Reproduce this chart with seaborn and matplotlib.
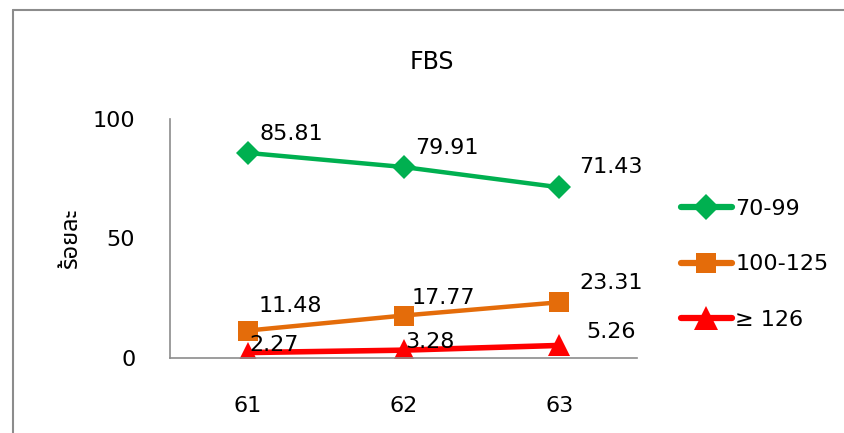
import numpy as np
import pandas as pd
import seaborn as sns
import matplotlib.pyplot as plt
from matplotlib.lines import Line2D
from matplotlib import font_manager

# ---------- data ----------
years = ["61", "62", "63"]
groups = ["70-99", "100-125", "≥ 126"]
fbs_70_99 = [85.81, 79.91, 71.43]
fbs_100_125 = [11.48, 17.77, 23.31]
fbs_126 = [2.27, 3.28, 5.26]
y_ticks = [0, 50, 100]

colors = {"70-99": "#00B050", "100-125": "#E46C0A", "≥ 126": "#FF0000"}
markers = {"70-99": "D", "100-125": "s", "≥ 126": "^"}
msize = {"D": 12, "s": 14, "^": 16}

df = pd.DataFrame({
    "year": years * 3,
    "group": [g for g in groups for _ in years],
    "value": fbs_70_99 + fbs_100_125 + fbs_126,
})

sns.set_theme(style="white")
# pick a font with thai glyphs if there is one
names = {f.name for f in font_manager.fontManager.ttflist}
thai = [n for n in ["Noto Sans Thai", "Noto Sans Thai UI", "Loma", "Garuda",
                    "Norasi", "Tlwg Typo", "Sarabun", "Noto Serif Thai"] if n in names]
plt.rcParams["font.family"] = ["DejaVu Sans"] + thai
plt.rcParams["text.color"] = "black"
plt.rcParams["xtick.color"] = "black"
plt.rcParams["ytick.color"] = "black"

fig = plt.figure(figsize=(8.44, 4.33), dpi=100)
ax = fig.add_axes([170 / 844, 1 - 358 / 433, (637 - 170) / 844, (358 - 119) / 433])

sns.lineplot(data=df, x="year", y="value", hue="group", style="group",
             markers=markers, dashes=False, palette=colors, linewidth=3.2,
             markersize=13, markeredgewidth=0, legend=False, ax=ax, sort=False)
for ln in ax.lines:
    m = ln.get_marker()
    if m in msize:
        ln.set_markersize(msize[m])
    if m == "^":
        ln.set_linewidth(4)

ax.set_xlim(-0.5, 2.5)
ax.set_ylim(0, 100)
ax.set_yticks(y_ticks)
ax.set_xlabel("")
ax.set_ylabel("")
ax.tick_params(axis="y", length=0, pad=25, labelsize=16)
ax.tick_params(axis="x", length=0, pad=27, labelsize=16)
sns.despine(ax=ax)
for s in ["left", "bottom"]:
    ax.spines[s].set_color("#8c8c8c")
    ax.spines[s].set_linewidth(1.2)

# data labels
offsets = {"70-99": (43, 19), "100-125": (42, 25), "≥ 126": (26, 8)}
last_offsets = {"70-99": (52, 20), "100-125": (52, 19), "≥ 126": (52, 13)}
for g, vals in zip(groups, [fbs_70_99, fbs_100_125, fbs_126]):
    for i, v in enumerate(vals):
        off = last_offsets[g] if i == 2 else offsets[g]
        if g == "100-125" and i == 1:
            off = (40, 18)
        ax.annotate(f"{v:.2f}", (i, v), xytext=off, textcoords="offset pixels",
                    ha="center", va="center", fontsize=16)

ax.text(-0.215, 0.5, "ร้อยละ", transform=ax.transAxes, rotation=90,
        ha="center", va="center", fontsize=17, fontweight="bold")

fig.text(432 / 844, 1 - 62 / 433, "FBS", ha="center", va="center", fontsize=17)

# legend
handles = [Line2D([], [], color=colors[g], marker=markers[g], lw=4.5,
                  markersize=msize[markers[g]] + 1, markeredgewidth=0,
                  solid_capstyle="round") for g in groups]
fig.legend(handles, groups, loc="upper left", bbox_to_anchor=(672 / 844, 1 - 190 / 433),
           frameon=False, fontsize=16, handlelength=2.3, handletextpad=0.15,
           labelspacing=1.6, borderaxespad=0)

# outer chart frame
fig.add_artist(Line2D([13 / 844, 13 / 844], [0, 1 - 10 / 433], color="#8c8c8c", lw=1.5))
fig.add_artist(Line2D([13 / 844, 1], [1 - 10 / 433, 1 - 10 / 433], color="#8c8c8c", lw=1.5))

fig.savefig("out.png", dpi=100)
